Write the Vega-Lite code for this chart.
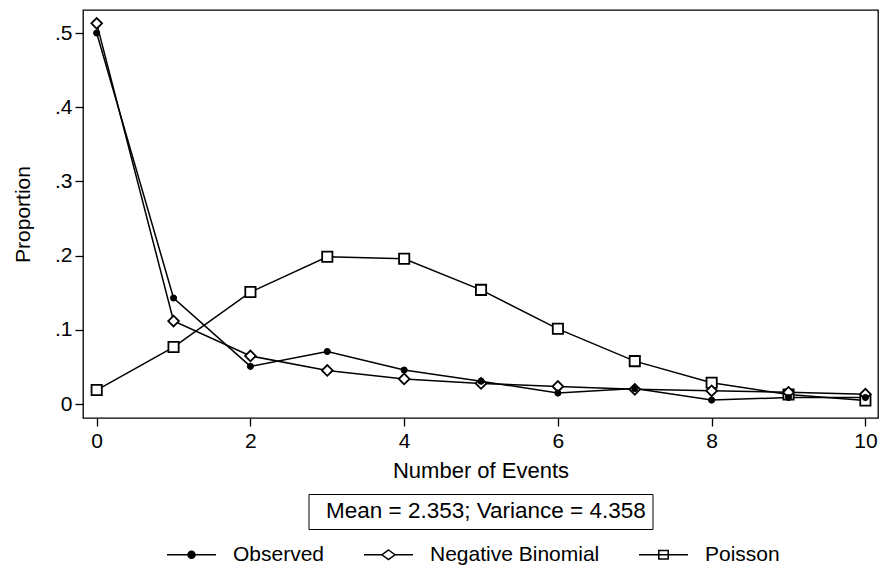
{
  "$schema": "https://vega.github.io/schema/vega-lite/v6.json",
  "width": 795,
  "height": 408,
  "autosize": {"type": "none"},
  "padding": {"left": 83, "top": 10, "right": 1, "bottom": 147},
  "background": "white",
  "config": {
    "font": "Liberation Sans",
    "view": {"stroke": "black", "strokeWidth": 1.3},
    "axis": {
      "domain": false, "grid": false, "ticks": true,
      "tickColor": "black", "tickSize": 8, "tickWidth": 1.3,
      "labelColor": "black", "titleColor": "black",
      "labelFontSize": 21, "titleFontSize": 21, "titleFontWeight": "normal",
      "labelFont": "Liberation Sans", "titleFont": "Liberation Sans"
    },
    "legend": {
      "layout": {
        "bottom": {"anchor": "middle", "direction": "vertical", "center": true, "margin": 15, "offset": 13, "bounds": "flush"}
      }
    }
  },
  "data": {
    "values": [
      {"events": 0, "series": "Observed", "proportion": 0.500},
      {"events": 1, "series": "Observed", "proportion": 0.143},
      {"events": 2, "series": "Observed", "proportion": 0.051},
      {"events": 3, "series": "Observed", "proportion": 0.071},
      {"events": 4, "series": "Observed", "proportion": 0.046},
      {"events": 5, "series": "Observed", "proportion": 0.031},
      {"events": 6, "series": "Observed", "proportion": 0.015},
      {"events": 7, "series": "Observed", "proportion": 0.021},
      {"events": 8, "series": "Observed", "proportion": 0.0055},
      {"events": 9, "series": "Observed", "proportion": 0.009},
      {"events": 10, "series": "Observed", "proportion": 0.009},
      {"events": 0, "series": "Negative Binomial", "proportion": 0.513},
      {"events": 1, "series": "Negative Binomial", "proportion": 0.112},
      {"events": 2, "series": "Negative Binomial", "proportion": 0.065},
      {"events": 3, "series": "Negative Binomial", "proportion": 0.0455},
      {"events": 4, "series": "Negative Binomial", "proportion": 0.034},
      {"events": 5, "series": "Negative Binomial", "proportion": 0.028},
      {"events": 6, "series": "Negative Binomial", "proportion": 0.024},
      {"events": 7, "series": "Negative Binomial", "proportion": 0.020},
      {"events": 8, "series": "Negative Binomial", "proportion": 0.018},
      {"events": 9, "series": "Negative Binomial", "proportion": 0.016},
      {"events": 10, "series": "Negative Binomial", "proportion": 0.0135},
      {"events": 0, "series": "Poisson", "proportion": 0.019},
      {"events": 1, "series": "Poisson", "proportion": 0.077},
      {"events": 2, "series": "Poisson", "proportion": 0.151},
      {"events": 3, "series": "Poisson", "proportion": 0.1985},
      {"events": 4, "series": "Poisson", "proportion": 0.196},
      {"events": 5, "series": "Poisson", "proportion": 0.154},
      {"events": 6, "series": "Poisson", "proportion": 0.1015},
      {"events": 7, "series": "Poisson", "proportion": 0.058},
      {"events": 8, "series": "Poisson", "proportion": 0.029},
      {"events": 9, "series": "Poisson", "proportion": 0.013},
      {"events": 10, "series": "Poisson", "proportion": 0.005}
    ]
  },
  "encoding": {
    "x": {
      "field": "events", "type": "quantitative",
      "scale": {"domain": [-0.178, 10.164], "nice": false, "zero": false},
      "axis": {"values": [0, 2, 4, 6, 8, 10], "labelPadding": 4, "title": "Number of Events", "titleFontSize": 22, "titlePadding": 9}
    },
    "y": {
      "field": "proportion", "type": "quantitative",
      "scale": {"domain": [-0.0186, 0.531], "nice": false, "zero": false},
      "axis": {
        "values": [0, 0.1, 0.2, 0.3, 0.4, 0.5],
        "labelExpr": "datum.value == 0 ? '0' : replace(format(datum.value, '.1f'), '0.', '.')",
        "labelPadding": 3, "title": "Proportion", "titlePadding": 21
      }
    }
  },
  "layer": [
    {
      "mark": {"type": "line", "stroke": "black", "strokeWidth": 1.5},
      "encoding": {"detail": {"field": "series"}}
    },
    {
      "transform": [{"filter": "false"}],
      "mark": {"type": "point", "filled": true, "opacity": 1},
      "encoding": {
        "color": {
          "field": "note", "type": "nominal",
          "scale": {"domain": ["Mean = 2.353; Variance = 4.358"], "range": ["white"]},
          "legend": {
            "title": null, "orient": "bottom", "symbolSize": 0, "symbolOpacity": 0, "symbolStrokeWidth": 0,
            "labelFontSize": 22.5, "labelColor": "black", "labelOffset": -11, "labelLimit": 800,
            "strokeColor": "black", "padding": 6
          }
        }
      }
    },
    {
      "mark": {"type": "point", "filled": false, "opacity": 0},
      "encoding": {
        "shape": {
          "field": "series", "type": "nominal",
          "scale": {
            "domain": ["Observed", "Negative Binomial", "Poisson"],
            "range": [
              "M-4.9,0H4.9M0.7,0A0.7,0.7,0,1,1,-0.7,0A0.7,0.7,0,1,1,0.7,0ZM0.44,0A0.44,0.44,0,1,1,-0.44,0A0.44,0.44,0,1,1,0.44,0ZM0.2,0A0.2,0.2,0,1,1,-0.2,0A0.2,0.2,0,1,1,0.2,0Z",
              "M-4.9,0H-1.3M1.3,0H4.9M0,-0.95L1.3,0L0,0.95L-1.3,0Z",
              "M-4.9,0H4.9M-0.94,-0.85H0.94V0.85H-0.94Z"
            ]
          },
          "legend": {
            "title": null, "direction": "horizontal", "orient": "bottom",
            "symbolSize": 100, "symbolStrokeColor": "black", "symbolStrokeWidth": 1.5,
            "symbolFillColor": "white", "symbolOpacity": 1,
            "labelFontSize": 21, "labelColor": "black", "labelOffset": 31,
            "columnPadding": 36, "labelLimit": 400
          }
        }
      }
    },
    {
      "transform": [{"filter": "datum.series === 'Poisson'"}],
      "mark": {"type": "point", "shape": "square", "filled": true, "fill": "white", "stroke": "black", "strokeWidth": 1.8, "size": 105, "opacity": 1}
    },
    {
      "transform": [{"filter": "datum.series === 'Negative Binomial'"}],
      "mark": {"type": "point", "shape": "diamond", "filled": true, "fill": "white", "stroke": "black", "strokeWidth": 1.8, "size": 115, "opacity": 1}
    },
    {
      "transform": [{"filter": "datum.series === 'Observed'"}],
      "mark": {"type": "point", "shape": "circle", "filled": true, "fill": "black", "stroke": "black", "strokeWidth": 1, "size": 38, "opacity": 1}
    }
  ]
}
